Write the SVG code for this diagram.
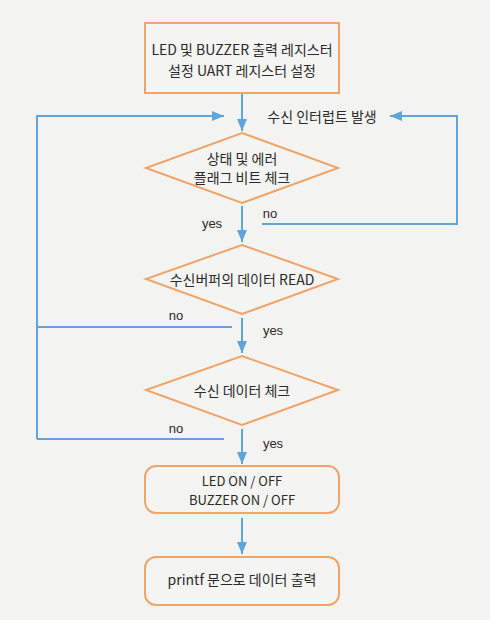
<svg xmlns="http://www.w3.org/2000/svg" width="490" height="620" viewBox="0 0 490 620">
<style>
.box{fill:#f4f4f2;stroke:#f0a468;stroke-width:2}
.ln{fill:none;stroke:#5ea5db;stroke-width:2}
.t{font-family:"Noto Sans CJK KR","Noto Sans",sans-serif;font-size:14px;fill:#2a2a2a;text-anchor:middle;dominant-baseline:central}
.e{font-size:13px}
.s{font-family:"Liberation Sans","Noto Sans CJK KR",sans-serif;font-size:13px;fill:#2a2a2a;text-anchor:middle;dominant-baseline:central}
</style>
<defs>
<marker id="ah" viewBox="0 0 12 10" refX="12" refY="5" markerWidth="12" markerHeight="10" markerUnits="userSpaceOnUse" orient="auto">
<path d="M0,0 L12,5 L0,10 Z" fill="#5ea5db"/>
</marker>
</defs>
<rect width="490" height="620" fill="#f3f3f1"/>
<g id="connectors">
<path class="ln" d="M242,93 V131" marker-end="url(#ah)"/>
<path class="ln" d="M37,439 V116 H224" marker-end="url(#ah)"/>
<path class="ln" d="M262,224 H457 V116 H390" marker-end="url(#ah)"/>
<path class="ln" d="M242,206 V242" marker-end="url(#ah)"/>
<path class="ln" d="M37,327 H232"/>
<path class="ln" d="M242,318 V353" marker-end="url(#ah)"/>
<path class="ln" d="M37,439 H224"/>
<path class="ln" d="M242,429 V464" marker-end="url(#ah)"/>
<path class="ln" d="M242,518 V554" marker-end="url(#ah)"/>
</g>
<g id="n1">
<rect class="box" x="145" y="23" width="194" height="70"/>
<text class="t" x="242" y="49">LED 및 BUZZER 출력 레지스터</text>
<text class="t" x="242" y="70">설정 UART 레지스터 설정</text>
</g>
<g id="lbl-int"><text class="t" x="322" y="116">수신 인터럽트 발생</text></g>
<g id="n2">
<polygon class="box" points="242,133 338,168 242,203 146,168"/>
<text class="t" x="242" y="158">상태 및 에러</text>
<text class="t" x="242" y="177">플래그 비트 체크</text>
</g>
<text class="s" x="212" y="223">yes</text>
<text class="s" x="270" y="213">no</text>
<g id="n3">
<polygon class="box" points="242,245 338,279 242,314 146,279"/>
<text class="t" x="242" y="279">수신버퍼의 데이터 READ</text>
</g>
<text class="s" x="176" y="315">no</text>
<text class="s" x="273" y="330">yes</text>
<g id="n4">
<polygon class="box" points="242,356 338,390 242,425 146,390"/>
<text class="t" x="242" y="390">수신 데이터 체크</text>
</g>
<text class="s" x="176" y="428">no</text>
<text class="s" x="273" y="443">yes</text>
<g id="n5">
<rect class="box" x="145" y="466" width="194" height="47" rx="11"/>
<text class="t e" x="242" y="480">LED ON / OFF</text>
<text class="t e" x="242" y="499">BUZZER ON / OFF</text>
</g>
<g id="n6">
<rect class="box" x="145" y="557" width="194" height="48" rx="11"/>
<text class="t" x="242" y="579">printf 문으로 데이터 출력</text>
</g>
</svg>
